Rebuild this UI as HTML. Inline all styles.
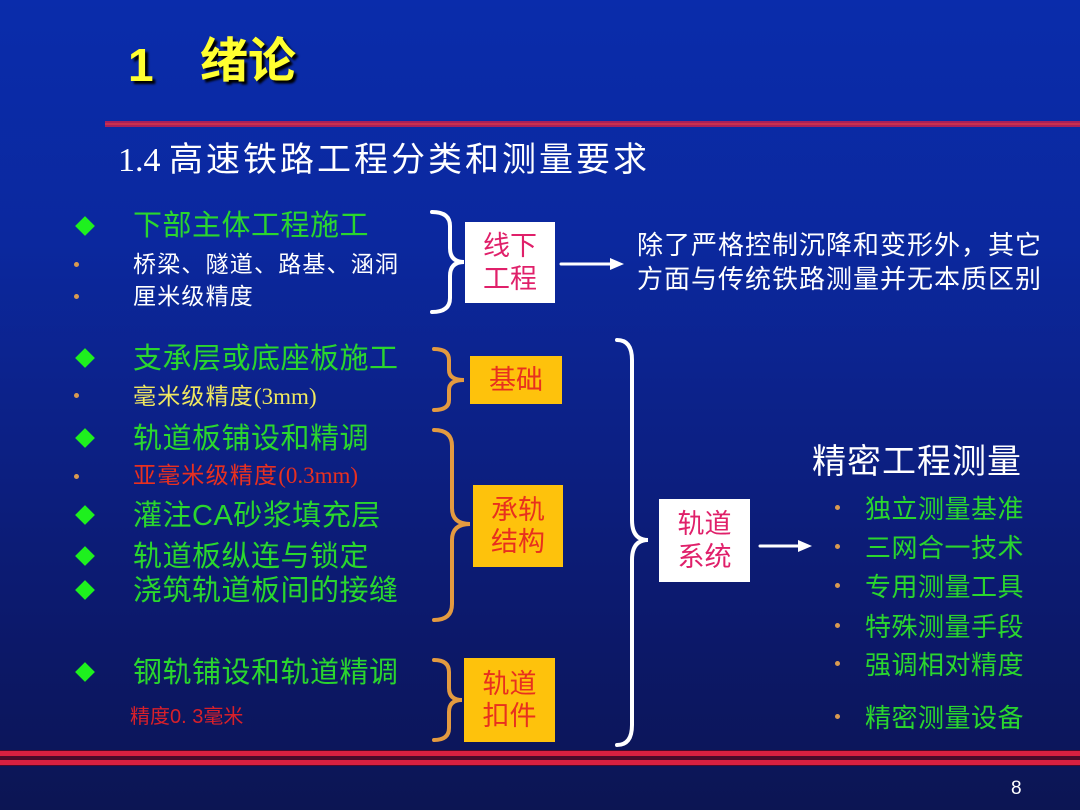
<!DOCTYPE html>
<html><head><meta charset="utf-8"><style>
html,body{margin:0;padding:0}
body{width:1080px;height:810px;position:relative;overflow:hidden;
background:linear-gradient(to bottom,#0a2cab 0%,#0b289e 30%,#0c2084 55%,#0c1868 80%,#0c1553 100%);
font-family:"Liberation Sans","Noto Sans CJK SC",sans-serif}
.t{position:absolute;white-space:nowrap;line-height:1}
.g{color:#2ad62e;font-size:29px;left:133px;letter-spacing:0.5px}
.w{color:#fff;font-size:23px;left:133px;letter-spacing:1.2px}
.d{position:absolute;left:78px;width:14px;height:14px;background:#1ef01e;transform:rotate(45deg)}
.o{position:absolute;left:74px;width:5px;height:5px;border-radius:50%;background:#d99a50}
.box{position:absolute;display:flex;align-items:center;justify-content:center;text-align:center;font-size:27px;line-height:1.2}
.wb{background:#fff;color:#e0206a}
.yb{background:#fec20c;color:#e8301e}
.r{color:#2ad62e;font-size:26px;left:865px;letter-spacing:0.5px}
.rd{position:absolute;left:835px;width:5px;height:5px;border-radius:50%;background:#d99a50}
</style></head><body>
<div class="t" style="left:128px;top:42px;font-size:46px;font-weight:bold;color:#ffff30;text-shadow:3px 3px 2px #000">1</div>
<div class="t" style="left:200px;top:38px;font-size:48px;font-weight:bold;color:#ffff30;text-shadow:3px 3px 2px #000">绪论</div>
<div style="position:absolute;left:105px;top:121px;width:975px;height:6px;background:#a8205a"></div>
<div style="position:absolute;left:105px;top:123px;width:975px;height:2px;background:#c83050"></div>
<div class="t" style="left:118px;top:143px;font-size:34px;color:#fff;letter-spacing:3px"><span style="font-family:'Liberation Serif',serif;letter-spacing:0">1.4 </span>高速铁路工程分类和测量要求</div>

<div class="d" style="top:219px"></div>
<div class="t g" style="top:212px">下部主体工程施工</div>
<div class="o" style="top:262px"></div>
<div class="t w" style="top:253px">桥梁、隧道、路基、涵洞</div>
<div class="o" style="top:294px"></div>
<div class="t w" style="top:285px">厘米级精度</div>

<div class="d" style="top:351px"></div>
<div class="t g" style="top:345px">支承层或底座板施工</div>
<div class="o" style="top:393px"></div>
<div class="t w" style="top:385px;color:#f0e860">毫米级精度<span style="font-family:'Liberation Serif',serif;letter-spacing:0">(3mm)</span></div>

<div class="d" style="top:431px"></div>
<div class="t g" style="top:425px">轨道板铺设和精调</div>
<div class="o" style="top:474px"></div>
<div class="t w" style="top:464px;color:#e83020">亚毫米级精度<span style="font-family:'Liberation Serif',serif;letter-spacing:0">(0.3mm)</span></div>
<div class="d" style="top:508px"></div>
<div class="t g" style="top:502px">灌注CA砂浆填充层</div>
<div class="d" style="top:549px"></div>
<div class="t g" style="top:543px">轨道板纵连与锁定</div>
<div class="d" style="top:583px"></div>
<div class="t g" style="top:577px">浇筑轨道板间的接缝</div>
<div class="d" style="top:665px"></div>
<div class="t g" style="top:659px">钢轨铺设和轨道精调</div>
<div class="t" style="left:130px;top:707px;font-size:20px;color:#d8202a">精度0. 3毫米</div>

<svg width="1080" height="810" style="position:absolute;left:0;top:0" viewBox="0 0 1080 810">
<g fill="none" stroke-width="4" stroke-linecap="round">
<path d="M432 212 Q450 212 450 226 L450 248 Q450 262 464 262 Q450 262 450 276 L450 298 Q450 312 432 312" stroke="#fff"/>
<path d="M434 349 Q449 349 449 360 L449 370 Q449 380 464 380 Q449 380 449 390 L449 400 Q449 410 434 410" stroke="#e39a40"/>
<path d="M434 430 Q452 430 452 446 L452 508 Q452 524 470 524 Q452 524 452 540 L452 604 Q452 620 434 620" stroke="#e39a40"/>
<path d="M434 660 Q449 660 449 672 L449 688 Q449 700 462 700 Q449 700 449 712 L449 728 Q449 740 434 740" stroke="#e39a40"/>
<path d="M617 340 Q632 340 632 360 L632 520 Q632 540 648 540 Q632 540 632 560 L632 725 Q632 745 617 745" stroke="#fff"/>
<line x1="561" y1="264" x2="612" y2="264" stroke="#fff" stroke-width="3"/>
<line x1="760" y1="546" x2="800" y2="546" stroke="#fff" stroke-width="3"/>
</g>
<polygon points="610,258 624,264 610,270" fill="#fff"/>
<polygon points="798,540 812,546 798,552" fill="#fff"/>
</svg>

<div class="box wb" style="left:465px;top:222px;width:90px;height:81px">线下<br>工程</div>
<div class="box yb" style="left:470px;top:356px;width:92px;height:48px">基础</div>
<div class="box yb" style="left:473px;top:485px;width:90px;height:82px">承轨<br>结构</div>
<div class="box yb" style="left:464px;top:658px;width:91px;height:84px">轨道<br>扣件</div>
<div class="box wb" style="left:659px;top:499px;width:91px;height:83px">轨道<br>系统</div>

<div class="t" style="left:637px;top:232px;font-size:26px;color:#fff;letter-spacing:1px">除了严格控制沉降和变形外，其它</div>
<div class="t" style="left:637px;top:266px;font-size:26px;color:#fff;letter-spacing:1px">方面与传统铁路测量并无本质区别</div>

<div class="t" style="left:812px;top:445px;font-size:34px;color:#fff;letter-spacing:1px">精密工程测量</div>
<div class="rd" style="top:505px"></div><div class="t r" style="top:496px">独立测量基准</div>
<div class="rd" style="top:544px"></div><div class="t r" style="top:535px">三网合一技术</div>
<div class="rd" style="top:583px"></div><div class="t r" style="top:574px">专用测量工具</div>
<div class="rd" style="top:623px"></div><div class="t r" style="top:614px">特殊测量手段</div>
<div class="rd" style="top:661px"></div><div class="t r" style="top:652px">强调相对精度</div>
<div class="rd" style="top:714px"></div><div class="t r" style="top:705px">精密测量设备</div>

<div style="position:absolute;left:0;top:750px;width:1080px;height:16px;background:#4a0a2a"></div>
<div style="position:absolute;left:0;top:751px;width:1080px;height:5px;background:#d82040"></div>
<div style="position:absolute;left:0;top:760px;width:1080px;height:5px;background:#d82040"></div>
<div class="t" style="left:1011px;top:779px;font-size:19px;color:#fff">8</div>
</body></html>
